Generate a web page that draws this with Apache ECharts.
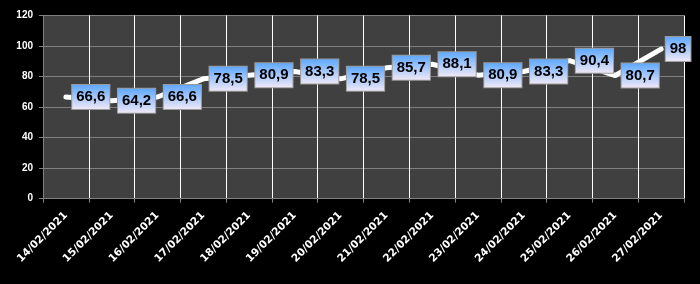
<!DOCTYPE html>
<html><head><meta charset="utf-8">
<script src="https://cdn.jsdelivr.net/npm/echarts@6/dist/echarts.min.js"></script>
<style>html,body{margin:0;padding:0;background:#000;}#c{width:700px;height:284px;}</style>
</head><body><div id="c"></div>
<script>
var categories = ['14/02/2021','15/02/2021','16/02/2021','17/02/2021','18/02/2021','19/02/2021','20/02/2021','21/02/2021','22/02/2021','23/02/2021','24/02/2021','25/02/2021','26/02/2021','27/02/2021'];
var values = [66.6, 64.2, 66.6, 78.5, 80.9, 83.3, 78.5, 85.7, 88.1, 80.9, 83.3, 90.4, 80.7, 98];
var yTicks = { min: 0, max: 120, interval: 20 };

var chart = echarts.init(document.getElementById('c'), null, {renderer: 'canvas'});
var gridLeft = 43, gridRight = 16;
var catW = (700 - gridLeft - gridRight) / categories.length;
var seriesData = values.map(function (v, i) {
  var off = (i === values.length - 1) ? 17 : catW / 2 + 2;
  return { value: v, label: { offset: [off, 0] } };
});
chart.setOption({
  backgroundColor: '#000',
  animation: false,
  grid: { left: gridLeft, right: gridRight, top: 15.5, bottom: 85.3, show: true, backgroundColor: '#404040', borderWidth: 0 },
  xAxis: {
    type: 'category', data: categories, boundaryGap: true,
    axisLine: { show: true, lineStyle: { color: '#808080', width: 1 } },
    axisTick: { show: true, length: 4, lineStyle: { color: '#808080' } },
    splitLine: { show: true, lineStyle: { color: '#ffffff', width: 1 } },
    axisLabel: { interval: 0, rotate: 45, color: '#fff', fontFamily: 'DejaVu Sans', fontWeight: 'bold', fontSize: 10.5, margin: 15 }
  },
  yAxis: {
    type: 'value', min: yTicks.min, max: yTicks.max, interval: yTicks.interval,
    axisLine: { show: true, lineStyle: { color: '#808080', width: 1 } },
    axisTick: { show: true, length: 4, lineStyle: { color: '#808080' } },
    splitLine: { show: true, lineStyle: { color: '#808080', width: 1 } },
    axisLabel: { color: '#fff', fontFamily: 'Liberation Sans', fontWeight: 'bold', fontSize: 10, margin: 10 }
  },
  series: [{
    type: 'line', data: seriesData, symbol: 'circle', symbolSize: 1, showSymbol: true, smooth: false,
    itemStyle: { color: 'rgba(0,0,0,0)', borderWidth: 0 },
    lineStyle: { color: '#fff', width: 5, cap: 'round', join: 'round' },
    label: {
      show: true, position: 'inside',
      formatter: function (p) { return String(p.value).replace('.', ','); },
      color: '#000', fontFamily: 'Liberation Sans', fontWeight: 'bold', fontSize: 15,
      padding: [5, 4, 4, 4],
      borderColor: '#9a9a9a', borderWidth: 1,
      backgroundColor: new echarts.graphic.LinearGradient(0, 0, 0, 1, [
        { offset: 0, color: '#5aa6ff' }, { offset: 1, color: '#f4eaf6' }
      ])
    }
  }]
});
</script></body></html>
